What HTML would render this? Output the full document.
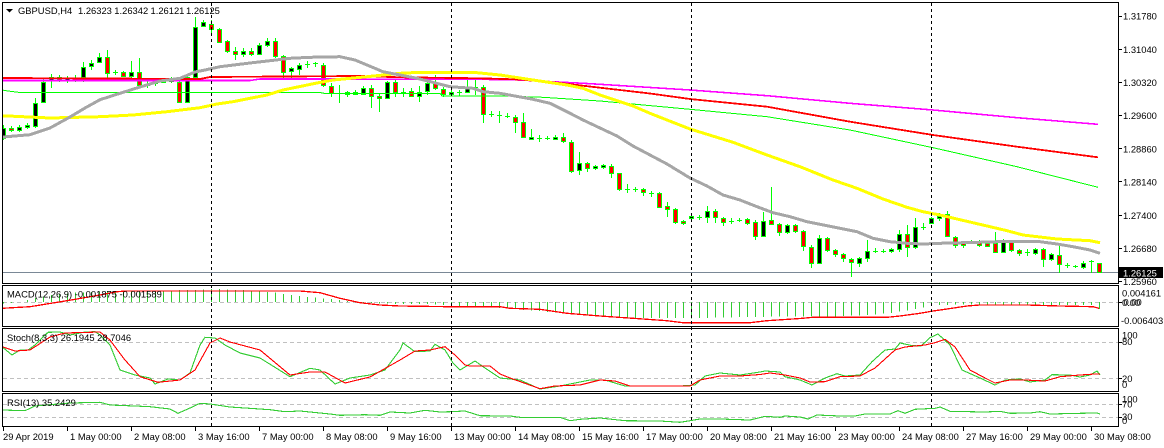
<!DOCTYPE html>
<html><head><meta charset="utf-8"><style>
html,body{margin:0;padding:0;background:#fff;}
svg{display:block;}
text{font-family:"Liberation Sans",Arial,sans-serif;font-size:9.4px;fill:#000;}
polyline{shape-rendering:crispEdges;}
</style></head><body>
<svg width="1164" height="448" viewBox="0 0 1164 448" xmlns="http://www.w3.org/2000/svg">
<rect width="1164" height="448" fill="#fff"/>
<defs><clipPath id="cm"><rect x="3" y="3" width="1115" height="280"/></clipPath>
<clipPath id="cmacd"><rect x="3" y="286" width="1115" height="40"/></clipPath>
<clipPath id="cst"><rect x="3" y="329" width="1115" height="62"/></clipPath>
<clipPath id="crsi"><rect x="3" y="394" width="1115" height="32"/></clipPath></defs>

<!-- main panel -->
<g clip-path="url(#cm)">
<line x1="3" y1="272.5" x2="1118" y2="272.5" stroke="#7a8896" stroke-width="1"/>
<path shape-rendering="crispEdges" stroke="#00ff00" stroke-width="1" fill="none" d="M3.5 125V140M11.5 126V132M19.5 125V132M27.5 123V129M35.5 98V128M43.5 78V103M51.5 74V88M59.5 75V82M67.5 76V83M75.5 75V82M83.5 62V82M91.5 60V70M99.5 53V63M107.5 50V80M115.5 70V75M123.5 71V77M131.5 61V78M139.5 58V88M147.5 80V88M155.5 80V86M163.5 78V83M171.5 77V83M179.5 80V102M187.5 75V103M195.5 17V77M203.5 20V27M211.5 20V33M219.5 28V43M227.5 40V53M235.5 47V60M243.5 48V57M251.5 48V56M259.5 43V55M267.5 38V47M275.5 38V58M283.5 55V80M291.5 67V78M299.5 63V75M307.5 61V68M315.5 62V67M323.5 63V87M331.5 83V97M339.5 85V103M347.5 91V97M355.5 90V95M363.5 86V95M371.5 85V108M379.5 94V112M387.5 81V99M395.5 80V97M403.5 88V97M411.5 88V97M419.5 86V102M427.5 82V95M435.5 75V90M443.5 87V97M451.5 90V95M459.5 90V96M467.5 79V93M475.5 79V95M483.5 85V123M491.5 111V117M499.5 111V123M507.5 113V118M515.5 115V133M523.5 113V137M531.5 129V139M539.5 135V142M547.5 136V140M555.5 135V140M563.5 133V143M571.5 140V173M579.5 152V175M587.5 162V172M595.5 165V170M603.5 164V169M611.5 164V178M619.5 173V191M627.5 184V193M635.5 187V192M643.5 188V196M651.5 191V197M659.5 192V208M667.5 202V217M675.5 208V224M683.5 220V225M691.5 213V222M699.5 215V220M707.5 206V223M715.5 209V223M723.5 217V226M731.5 218V224M739.5 218V222M747.5 218V225M755.5 220V240M763.5 212V237M771.5 187V225M779.5 223V236M787.5 224V234M795.5 224V233M803.5 230V251M811.5 245V268M819.5 235V264M827.5 237V252M835.5 249V257M843.5 253V262M851.5 258V277M859.5 257V267M867.5 240V262M875.5 248V253M883.5 249V253M891.5 248V253M899.5 230V252M907.5 225V257M915.5 218V249M923.5 223V230M931.5 217V224M939.5 213V221M947.5 211V237M955.5 236V248M963.5 241V248M971.5 240V244M979.5 240V247M987.5 242V247M995.5 232V253M1003.5 239V253M1011.5 240V252M1019.5 249V256M1027.5 249V256M1035.5 248V255M1043.5 248V267M1051.5 253V261M1059.5 246V273M1067.5 263V268M1075.5 265V268M1083.5 261V269M1091.5 260V273M1099.5 263V273
M73 78.5h5M113 72.5h5M145 85.5h5M153 83.5h5M169 81.5h5M305 64.5h5M313 63.5h5M337 93.5h5M401 92.5h5M457 92.5h5M473 87.5h5M489 114.5h5M497 115.5h5M505 116.5h5M537 138.5h5M545 138.5h5M625 189.5h5M633 189.5h5M649 193.5h5M697 217.5h5M729 221.5h5M737 220.5h5M873 251.5h5M881 251.5h5M921 227.5h5M1025 252.5h5M1065 265.5h5M1073 266.5h5M1089 261.5h5"/>
<path shape-rendering="crispEdges" stroke="#00ff00" stroke-width="1" fill="#000" d="M1.5 128.5h4V138.5h-4zM17.5 127.5h4V130.5h-4zM25.5 125.5h4V127.5h-4zM33.5 103.5h4V126.5h-4zM41.5 82.5h4V102.5h-4zM49.5 77.5h4V80.5h-4zM65.5 78.5h4V80.5h-4zM81.5 67.5h4V77.5h-4zM89.5 63.5h4V66.5h-4zM97.5 57.5h4V62.5h-4zM129.5 72.5h4V76.5h-4zM161.5 80.5h4V82.5h-4zM185.5 77.5h4V102.5h-4zM193.5 27.5h4V77.5h-4zM201.5 22.5h4V26.5h-4zM241.5 51.5h4V54.5h-4zM257.5 45.5h4V54.5h-4zM265.5 41.5h4V45.5h-4zM289.5 68.5h4V71.5h-4zM297.5 65.5h4V69.5h-4zM345.5 92.5h4V94.5h-4zM353.5 92.5h4V94.5h-4zM361.5 88.5h4V94.5h-4zM385.5 82.5h4V98.5h-4zM417.5 92.5h4V96.5h-4zM425.5 83.5h4V91.5h-4zM449.5 92.5h4V94.5h-4zM465.5 88.5h4V92.5h-4zM529.5 137.5h4V139.5h-4zM553.5 137.5h4V139.5h-4zM577.5 163.5h4V170.5h-4zM593.5 166.5h4V168.5h-4zM601.5 165.5h4V167.5h-4zM689.5 216.5h4V218.5h-4zM705.5 211.5h4V217.5h-4zM761.5 221.5h4V236.5h-4zM785.5 225.5h4V232.5h-4zM817.5 238.5h4V263.5h-4zM857.5 258.5h4V263.5h-4zM865.5 251.5h4V258.5h-4zM889.5 249.5h4V251.5h-4zM897.5 234.5h4V249.5h-4zM913.5 227.5h4V247.5h-4zM929.5 218.5h4V223.5h-4zM937.5 216.5h4V218.5h-4zM969.5 241.5h4V243.5h-4zM1001.5 241.5h4V252.5h-4zM1033.5 249.5h4V253.5h-4zM1049.5 254.5h4V259.5h-4zM1081.5 263.5h4V267.5h-4z"/>
<path shape-rendering="crispEdges" stroke="#00ff00" stroke-width="1" fill="#ff0000" d="M9.5 128.5h4V130.5h-4zM57.5 77.5h4V80.5h-4zM105.5 57.5h4V73.5h-4zM121.5 72.5h4V76.5h-4zM137.5 72.5h4V85.5h-4zM177.5 82.5h4V102.5h-4zM209.5 24.5h4V29.5h-4zM217.5 29.5h4V42.5h-4zM225.5 41.5h4V51.5h-4zM233.5 51.5h4V54.5h-4zM249.5 51.5h4V54.5h-4zM273.5 41.5h4V56.5h-4zM281.5 56.5h4V72.5h-4zM321.5 65.5h4V85.5h-4zM329.5 86.5h4V93.5h-4zM369.5 88.5h4V96.5h-4zM377.5 96.5h4V98.5h-4zM393.5 82.5h4V92.5h-4zM409.5 91.5h4V96.5h-4zM433.5 82.5h4V88.5h-4zM441.5 89.5h4V94.5h-4zM481.5 87.5h4V114.5h-4zM513.5 117.5h4V122.5h-4zM521.5 122.5h4V137.5h-4zM561.5 137.5h4V141.5h-4zM569.5 142.5h4V171.5h-4zM585.5 163.5h4V168.5h-4zM609.5 166.5h4V173.5h-4zM617.5 173.5h4V189.5h-4zM641.5 189.5h4V192.5h-4zM657.5 193.5h4V207.5h-4zM665.5 206.5h4V209.5h-4zM673.5 209.5h4V222.5h-4zM681.5 221.5h4V223.5h-4zM713.5 211.5h4V217.5h-4zM721.5 218.5h4V222.5h-4zM745.5 219.5h4V223.5h-4zM753.5 222.5h4V236.5h-4zM769.5 220.5h4V224.5h-4zM777.5 224.5h4V232.5h-4zM793.5 225.5h4V231.5h-4zM801.5 231.5h4V246.5h-4zM809.5 247.5h4V263.5h-4zM825.5 238.5h4V250.5h-4zM833.5 250.5h4V254.5h-4zM841.5 254.5h4V258.5h-4zM849.5 259.5h4V262.5h-4zM905.5 234.5h4V247.5h-4zM945.5 214.5h4V236.5h-4zM953.5 237.5h4V245.5h-4zM961.5 243.5h4V245.5h-4zM977.5 241.5h4V245.5h-4zM985.5 243.5h4V246.5h-4zM993.5 243.5h4V252.5h-4zM1009.5 241.5h4V250.5h-4zM1017.5 250.5h4V253.5h-4zM1041.5 249.5h4V259.5h-4zM1057.5 255.5h4V264.5h-4zM1097.5 263.5h4V272.5h-4z"/>
<!-- moving averages -->
<polyline fill="none" stroke="#00ff00" stroke-width="1" points="2,90 8,91 20,92.5 320,92.5 325,93.5 440,93.5 442,96 503,96 543,97.3 600,101 690,109.3 767,116.7 850,130 933,147.7 1017,166.7 1098,187.3"/>
<polyline fill="none" stroke="#ff00ff" stroke-width="1.6" points="2,80.5 250,80.5 260,79 330,79 400,79.3 480,79.3 520,80 583,83.3 600,84.3 690,90 767,95.7 850,103.3 933,110 1017,117.7 1098,124.3"/>
<polyline fill="none" stroke="#ff0000" stroke-width="1.8" points="2,78 200,79 210,77 360,76 400,77.3 480,78.3 520,79.5 560,83 600,87.7 650,93.5 690,99 767,106.7 850,121.7 933,135 1017,146.7 1098,157.3"/>
<polyline fill="none" stroke="#ffff00" stroke-width="3" points="2,115.7 50,118 100,116.7 133,115 167,111.7 200,107.7 217,104 233,101.7 250,98.3 267,95 283,90 300,86.5 317,83 333,80 367,76.7 400,73.3 420,72.3 473,72.3 500,75 533,80 567,85 583,88.3 600,95 633,106 650,113.3 667,120 690,129 733,142.3 767,155 800,166.7 833,180 857,188.3 883,199 907,207.3 923,211.7 940,215 957,219 990,226.7 1007,230.7 1023,235 1057,239 1090,240.7 1100,242.7"/>
<polyline fill="none" stroke="#a6a6a6" stroke-width="3" points="3,137 30,134.7 50,128 70,117 85,108 100,99.7 120,93.3 140,87 160,81 180,78.3 195,72 205,70 220,66.7 250,63 270,60.7 290,58.3 310,57.3 340,56.7 355,60 367,65 383,71.7 400,75 417,78.3 450,86.7 473,88.3 483,91.7 500,93.3 533,99.3 550,103.3 567,111.7 583,120 600,128 617,136 633,146 650,155 667,164 690,178 707,186 723,195 740,200 757,206.7 773,212.7 790,216.7 807,221.7 840,228.3 857,231.7 873,238.3 890,241.7 907,243.3 923,244 940,243.3 990,242 1007,241.3 1040,241.7 1057,244 1073,246.7 1090,250 1100,253.3"/>
</g>

<!-- MACD -->
<g clip-path="url(#cmacd)">
<line x1="3" y1="302.5" x2="1118" y2="302.5" stroke="#c0c0c0" stroke-dasharray="4,3"/>
<path stroke="#33cc33" stroke-width="1" fill="none" shape-rendering="crispEdges" d="M3.5 302V303.5M11.5 302V303M27.5 302V300M35.5 302V298M43.5 302V296.3M51.5 302V295M59.5 302V294M67.5 302V293.3M75.5 302V292.7M83.5 302V292.3M91.5 302V292M99.5 302V291.5M107.5 302V291.4M115.5 302V291.2M123.5 302V291M131.5 302V290.9M139.5 302V290.7M147.5 302V290.6M155.5 302V290.5M163.5 302V290.4M171.5 302V290.3M179.5 302V290.2M187.5 302V290.1M195.5 302V290M203.5 302V289.7M211.5 302V289.1M219.5 302V289.2M227.5 302V289.5M235.5 302V289.8M243.5 302V290.2M251.5 302V290.8M259.5 302V291.3M267.5 302V291.8M275.5 302V292.7M283.5 302V293.8M291.5 302V294.9M299.5 302V295.9M307.5 302V296.8M315.5 302V297.6M323.5 302V298.4M331.5 302V299.2M339.5 302V300.2M347.5 302V301.2M363.5 302V302.5M371.5 302V303M379.5 302V303.3M387.5 302V303.6M395.5 302V303.9M403.5 302V304M411.5 302V304M419.5 302V304M427.5 302V304M435.5 302V304.4M443.5 302V304.9M451.5 302V305.4M459.5 302V306M467.5 302V306.4M475.5 302V306.8M483.5 302V307.2M491.5 302V307.6M499.5 302V308M507.5 302V308.6M515.5 302V309.2M523.5 302V309.8M531.5 302V310.4M539.5 302V311M547.5 302V311.8M555.5 302V312.6M563.5 302V313.4M571.5 302V314.2M579.5 302V315M587.5 302V315.6M595.5 302V316.2M603.5 302V316.8M611.5 302V317.4M619.5 302V318M627.5 302V318.2M635.5 302V318.2M643.5 302V318.2M651.5 302V318.2M659.5 302V318.2M667.5 302V318.2M675.5 302V318.2M683.5 302V318.2M691.5 302V318.3M699.5 302V318M707.5 302V317.8M715.5 302V317.6M723.5 302V317.4M731.5 302V317.3M739.5 302V317.2M747.5 302V317M755.5 302V316.9M763.5 302V316.8M771.5 302V316.6M779.5 302V316.5M787.5 302V316.5M795.5 302V316.5M803.5 302V316.5M811.5 302V316.5M819.5 302V316.5M827.5 302V316.5M835.5 302V316.3M843.5 302V316M851.5 302V315.7M859.5 302V315.4M867.5 302V315.1M875.5 302V314.5M883.5 302V313.7M891.5 302V312.8M899.5 302V311.6M907.5 302V310.4M915.5 302V308.9M923.5 302V307.3M931.5 302V306.1M939.5 302V305.1M947.5 302V304.8M955.5 302V304.6M963.5 302V304.5M971.5 302V304.7M979.5 302V304.7M987.5 302V304.7M995.5 302V304.7M1003.5 302V305.2M1011.5 302V305.2M1019.5 302V305.2M1027.5 302V305.2M1035.5 302V305.2M1043.5 302V305.2M1051.5 302V305.2M1059.5 302V305.2M1067.5 302V305.2M1075.5 302V305.2M1083.5 302V305.2M1091.5 302V305.2M1099.5 302V308.8"/>
<polyline fill="none" stroke="#ff0000" stroke-width="1.3" points="2,308.3 30,306.7 67,300.7 100,295 117,291.7 127,291 300,291 320,292.7 340,298.3 360,302.7 380,305 400,306 450,306.7 500,306.7 510,308.3 540,309.3 567,313.3 600,316 633,318.3 667,320.7 683,322.7 750,322.7 767,320.7 800,318.5 813,317.3 887,317.3 900,316 920,313.3 933,311 947,309 967,306 980,305 1027,305 1060,306 1093,306.7 1099,308.3"/>
</g>

<!-- Stoch -->
<g clip-path="url(#cst)">
<line x1="3" y1="342.5" x2="1118" y2="342.5" stroke="#c0c0c0" stroke-dasharray="4,3"/>
<line x1="3" y1="378.5" x2="1118" y2="378.5" stroke="#c0c0c0" stroke-dasharray="4,3"/>
<polyline fill="none" stroke="#33cc33" stroke-width="1.1" points="2,346.7 12,355 20,350 28,350 35,345 48,332.3 60,332 70,335 85,332 95,331.7 100,335 110,345 120,370 135,375 150,378 155,384 168,379 180,380 190,373 200,345 205,337.3 215,338 225,345 240,353 260,358 290,376.7 310,368.3 320,370 335,384 350,378 370,375 385,370 400,350 403,343 415,351.7 430,351 435,344.3 445,350 453,363 460,370 475,361 485,368 500,378 520,380 540,389 560,386 590,380 605,380 625,386 650,386 680,386 695,385 705,376 720,373 740,375 760,372 765,371 780,372 785,376.7 800,380 812,385 825,378 837,373.7 845,376 860,375 872,361.7 885,350 895,349 900,343 912,345.6 921,346 930,337.7 938,334 950,345 962,370 980,378 995,385 1005,380 1020,379 1030,382 1045,380 1052,374.7 1070,375 1080,377 1090,375 1097,371 1100,375"/>
<polyline fill="none" stroke="#ff0000" stroke-width="1.1" points="2,346.7 15,351 30,350 50,337 65,333 100,332 110,340 125,360 140,376.7 158,382.3 180,380 195,370 210,343 220,338 230,342 260,350 290,375 310,372 325,372 345,383 370,377 400,360 415,351 430,350 445,346.7 455,355 465,365 470,366 490,366 500,374 510,378 540,388.7 555,386 580,385 600,380 615,381 630,386 690,386 700,380 720,376 740,376 760,374.5 770,373 785,375 800,378 810,382 825,381.7 840,376.7 860,376 875,368 895,350 905,347 925,345 935,342.7 945,339.3 955,347 970,370 985,378 995,383 1010,380 1025,380 1045,381 1060,376.7 1080,375 1095,374 1100,374"/>
</g>

<!-- RSI -->
<g clip-path="url(#crsi)">
<line x1="3" y1="404.5" x2="1118" y2="404.5" stroke="#c0c0c0" stroke-dasharray="4,3"/>
<line x1="3" y1="417.5" x2="1118" y2="417.5" stroke="#c0c0c0" stroke-dasharray="4,3"/>
<polyline fill="none" stroke="#33cc33" stroke-width="1.1" points="2,410 25,410.7 35,406 70,403 100,402.3 110,405 135,406 150,406.7 170,409 178,413.3 190,408 200,403.3 210,404 230,407 270,409.7 285,411.7 300,411 330,414 340,415.3 365,414.7 380,415.3 390,412 400,412.5 410,413 425,410.3 440,412 450,411.7 465,411 480,415.7 510,416 520,417.3 560,417.3 570,420.7 580,419.3 600,418 625,420.7 660,421 680,422.3 690,420.7 700,419 720,419 750,420 765,416.3 780,417.3 785,416 800,417 808,419 817,415 840,416 855,416 865,414 890,414 898,410.7 905,413.3 915,409.3 935,408.3 940,407 950,411.3 985,412 1000,411.3 1010,413.3 1030,413 1040,411.7 1050,414 1080,413.3 1097,413 1100,414"/>
</g>

<!-- week separators -->
<g stroke="#000" stroke-width="1" stroke-dasharray="3,3">
<line x1="211.5" y1="3" x2="211.5" y2="426"/>
<line x1="451.5" y1="3" x2="451.5" y2="426"/>
<line x1="691.5" y1="3" x2="691.5" y2="426"/>
<line x1="931.5" y1="3" x2="931.5" y2="426"/>
</g>

<!-- panel borders -->
<g fill="none" stroke="#000" stroke-width="1" shape-rendering="crispEdges">
<rect x="2.5" y="2.5" width="1116" height="281"/>
<rect x="2.5" y="285.5" width="1116" height="41"/>
<rect x="2.5" y="328.5" width="1116" height="63"/>
<rect x="2.5" y="393.5" width="1116" height="33"/>
</g>

<!-- right axis ticks -->
<path stroke="#000" stroke-width="1" shape-rendering="crispEdges" d="M1118 16.5h4M1118 49.5h4M1118 82.5h4M1118 115.5h4M1118 148.5h4M1118 181.5h4M1118 215.5h4M1118 248.5h4M1118 281.5h4M1118 302.5h4M1118 342.5h4M1118 378.5h4M1118 404.5h4M1118 417.5h4"/>

<!-- header -->
<polygon points="6,9 13,9 9.5,12.5" fill="#000"/>
<text x="18" y="14">GBPUSD,H4</text>
<text x="78" y="14">1.26323</text>
<text x="114.3" y="14">1.26342</text>
<text x="150.5" y="14">1.26121</text>
<text x="186" y="14">1.26125</text>

<!-- price labels -->
<text x="1123" y="19.5">1.31780</text>
<text x="1123" y="52.8">1.31040</text>
<text x="1123" y="86">1.30320</text>
<text x="1123" y="119.2">1.29600</text>
<text x="1123" y="152.5">1.28860</text>
<text x="1123" y="185.5">1.28140</text>
<text x="1123" y="218.8">1.27400</text>
<text x="1123" y="252">1.26680</text>
<text x="1123" y="285">1.25960</text>
<rect x="1119" y="267" width="44" height="11" fill="#000"/>
<text x="1123" y="276.3" style="fill:#fff">1.26125</text>

<!-- indicator labels -->
<text x="7" y="297.5">MACD(12,26,9) -0.001875 -0.001589</text>
<text x="1122" y="296.5">0.004161</text>
<text x="1122" y="306">0.00</text>
<text x="1123.5" y="305.3">0.00</text>
<text x="1121" y="324">-0.006403</text>

<text x="7" y="341">Stoch(8,3,3) 26.1945 28.7046</text>
<text x="1122" y="338.5">100</text>
<text x="1122" y="345">80</text>
<text x="1122" y="381.8">20</text>
<text x="1122" y="388">0</text>

<text x="7" y="406">RSI(13) 35.2429</text>
<text x="1122" y="402.7">100</text>
<text x="1122" y="407.3">70</text>
<text x="1122" y="420">30</text>
<text x="1122" y="424">0</text>

<!-- time axis -->
<path stroke="#000" stroke-width="1" shape-rendering="crispEdges" d="M3.5 427v4M67.5 427v4M131.5 427v4M195.5 427v4M259.5 427v4M323.5 427v4M387.5 427v4M451.5 427v4M515.5 427v4M579.5 427v4M643.5 427v4M707.5 427v4M771.5 427v4M835.5 427v4M899.5 427v4M963.5 427v4M1027.5 427v4M1091.5 427v4"/>
<g>
<text x="3" y="440">29 Apr 2019</text>
<text x="70" y="440">1 May 00:00</text>
<text x="134" y="440">2 May 08:00</text>
<text x="198" y="440">3 May 16:00</text>
<text x="262" y="440">7 May 00:00</text>
<text x="326" y="440">8 May 08:00</text>
<text x="390" y="440">9 May 16:00</text>
<text x="454" y="440">13 May 00:00</text>
<text x="518" y="440">14 May 08:00</text>
<text x="582" y="440">15 May 16:00</text>
<text x="646" y="440">17 May 00:00</text>
<text x="710" y="440">20 May 08:00</text>
<text x="774" y="440">21 May 16:00</text>
<text x="838" y="440">23 May 00:00</text>
<text x="902" y="440">24 May 08:00</text>
<text x="966" y="440">27 May 16:00</text>
<text x="1030" y="440">29 May 00:00</text>
<text x="1094" y="440">30 May 08:00</text>
</g>
</svg>
</body></html>
